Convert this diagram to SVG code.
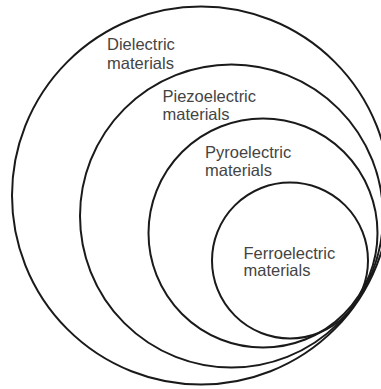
<svg xmlns="http://www.w3.org/2000/svg" width="381" height="389" viewBox="0 0 381 389">
  <style>
    .ring { fill: none; stroke: #1a1a1a; stroke-width: 2; }
    .lbl { font-family: "Liberation Sans", Arial, Helvetica, sans-serif; font-size: 16.5px; fill: #444444; }
  </style>
  <rect x="0" y="0" width="381" height="389" fill="#ffffff"/>
  <g id="dielectric">
    <circle class="ring" cx="201" cy="195.5" r="189"/>
    <text class="lbl" x="107" y="50">Dielectric</text>
    <text class="lbl" x="107" y="68.5">materials</text>
  </g>
  <g id="piezoelectric">
    <circle class="ring" cx="231.5" cy="216" r="151.5"/>
    <text class="lbl" x="162.5" y="101.5">Piezoelectric</text>
    <text class="lbl" x="162.5" y="119.5">materials</text>
  </g>
  <g id="pyroelectric">
    <circle class="ring" cx="263" cy="233" r="114.5"/>
    <text class="lbl" x="205" y="157.5">Pyroelectric</text>
    <text class="lbl" x="205" y="175.5">materials</text>
  </g>
  <g id="ferroelectric">
    <circle class="ring" cx="290" cy="260.5" r="78"/>
    <text class="lbl" x="243.5" y="258.5">Ferroelectric</text>
    <text class="lbl" x="243.5" y="276">materials</text>
  </g>
  <g id="connectors"/>
</svg>
